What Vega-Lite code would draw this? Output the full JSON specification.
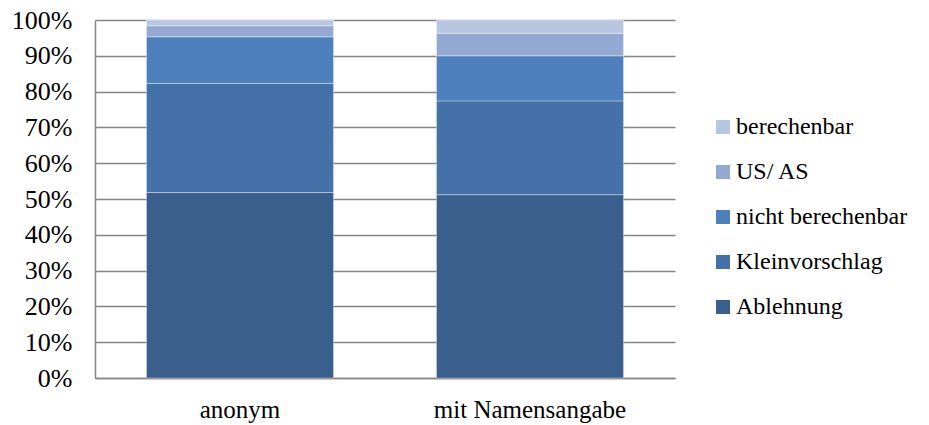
{
  "$schema": "https://vega.github.io/schema/vega-lite/v6.json",
  "width": 580,
  "height": 358,
  "autosize": {"type": "none"},
  "padding": {"left": 95, "top": 20, "right": 254, "bottom": 47},
  "background": "white",
  "data": {
    "values": [
      {"gruppe": "anonym", "kategorie": "Ablehnung", "rang": 1, "anteil": 51.8},
      {"gruppe": "anonym", "kategorie": "Kleinvorschlag", "rang": 2, "anteil": 30.5},
      {"gruppe": "anonym", "kategorie": "nicht berechenbar", "rang": 3, "anteil": 13.0},
      {"gruppe": "anonym", "kategorie": "US/ AS", "rang": 4, "anteil": 3.1},
      {"gruppe": "anonym", "kategorie": "berechenbar", "rang": 5, "anteil": 1.6},
      {"gruppe": "mit Namensangabe", "kategorie": "Ablehnung", "rang": 1, "anteil": 51.2},
      {"gruppe": "mit Namensangabe", "kategorie": "Kleinvorschlag", "rang": 2, "anteil": 26.2},
      {"gruppe": "mit Namensangabe", "kategorie": "nicht berechenbar", "rang": 3, "anteil": 12.6},
      {"gruppe": "mit Namensangabe", "kategorie": "US/ AS", "rang": 4, "anteil": 6.3},
      {"gruppe": "mit Namensangabe", "kategorie": "berechenbar", "rang": 5, "anteil": 3.7}
    ]
  },
  "config": {
    "view": {"stroke": null},
    "font": "'Liberation Serif', 'DejaVu Serif', serif"
  },
  "mark": {"type": "bar", "stroke": "#ffffff", "strokeOpacity": 0.35, "strokeWidth": 1},
  "encoding": {
    "x": {
      "field": "gruppe",
      "type": "nominal",
      "sort": ["anonym", "mit Namensangabe"],
      "scale": {"paddingInner": 0.355, "paddingOuter": 0.1775},
      "axis": {
        "title": null,
        "labelAngle": 0,
        "labelFont": "'Liberation Serif', 'DejaVu Serif', serif",
        "labelFontSize": 25,
        "labelColor": "#000000",
        "labelPadding": 19,
        "labelLimit": 400,
        "ticks": false,
        "domainColor": "#868686",
        "domainWidth": 1.5,
        "grid": false
      }
    },
    "y": {
      "field": "anteil",
      "type": "quantitative",
      "stack": "zero",
      "scale": {"domain": [0, 100], "nice": false},
      "axis": {
        "title": null,
        "values": [0, 10, 20, 30, 40, 50, 60, 70, 80, 90, 100],
        "labelExpr": "datum.value + '%'",
        "labelFont": "'Liberation Serif', 'DejaVu Serif', serif",
        "labelFontSize": 26,
        "labelColor": "#000000",
        "labelPadding": 23,
        "ticks": false,
        "domainColor": "#868686",
        "domainWidth": 1.5,
        "grid": true,
        "gridColor": "#868686",
        "gridWidth": 1.5
      }
    },
    "order": {"field": "rang", "type": "quantitative", "sort": "ascending"},
    "color": {
      "field": "kategorie",
      "type": "nominal",
      "scale": {
        "domain": ["berechenbar", "US/ AS", "nicht berechenbar", "Kleinvorschlag", "Ablehnung"],
        "range": ["#B9C6E1", "#94A9D1", "#4D80BC", "#4472A8", "#3A5F8C"]
      },
      "legend": {
        "title": null,
        "orient": "none",
        "legendX": 616,
        "legendY": 95,
        "padding": 0,
        "symbolType": "square",
        "symbolSize": 196,
        "symbolStrokeWidth": 0,
        "labelFont": "'Liberation Serif', 'DejaVu Serif', serif",
        "labelFontSize": 24,
        "labelColor": "#000000",
        "labelOffset": 1,
        "rowPadding": 21,
        "labelLimit": 300
      }
    }
  }
}
